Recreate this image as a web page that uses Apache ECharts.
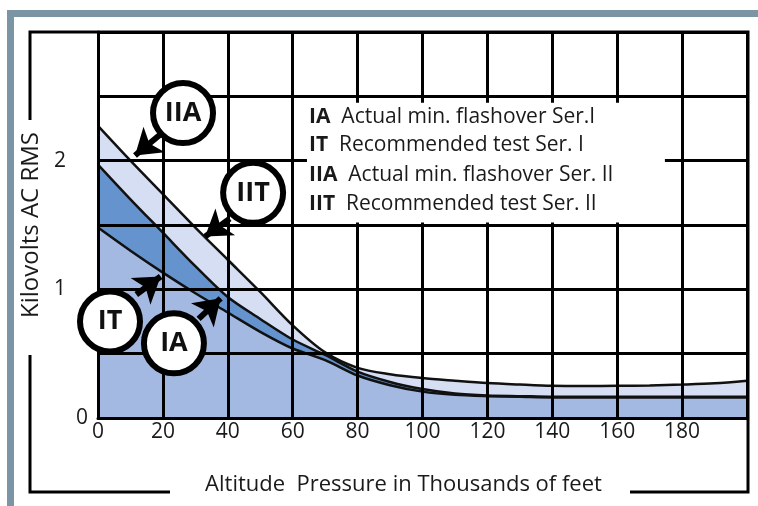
<!DOCTYPE html>
<html>
<head>
<meta charset="utf-8">
<script src="https://cdn.jsdelivr.net/npm/echarts@6/dist/echarts.min.js"></script>
<style>
  html, body { margin: 0; padding: 0; background: #fff; }
  #main { width: 758px; height: 506px; }
</style>
</head>
<body>
<div id="main"></div>
<script>
// altitude in thousands of feet
var altitude = [0, 10, 20, 30, 40, 50, 60, 70, 80, 90, 100, 110, 120, 130, 140, 150, 160, 170, 180, 190, 200];
// kilovolts AC RMS
var iiaCurve = [2.27, 2.00, 1.74, 1.48, 1.23, 0.98, 0.72, 0.51, 0.39, 0.34, 0.31, 0.29, 0.272, 0.26, 0.25, 0.248, 0.25, 0.253, 0.26, 0.27, 0.29];
var iaCurve  = [1.97, 1.70, 1.44, 1.18, 0.94, 0.77, 0.61, 0.49, 0.36, 0.28, 0.225, 0.19, 0.175, 0.17, 0.165, 0.165, 0.165, 0.165, 0.165, 0.165, 0.165];
var itCurve  = [1.48, 1.30, 1.13, 0.97, 0.82, 0.67, 0.54, 0.45, 0.33, 0.255, 0.205, 0.18, 0.17, 0.165, 0.16, 0.16, 0.16, 0.16, 0.16, 0.16, 0.16];
var xTicks = [0, 20, 40, 60, 80, 100, 120, 140, 160, 180];
var yTicks = [0, 1, 2];
var legendRows = [
  ['IA', 'Actual min. flashover Ser.I'],
  ['IT', 'Recommended test Ser. I'],
  ['IIA', 'Actual min. flashover Ser. II'],
  ['IIT', 'Recommended test Ser. II']
];
var calloutNames = ['IIA', 'IIT', 'IT', 'IA'];

var FONT = '"Open Sans", "Noto Sans", sans-serif';
var INK = '#1a1a1a';

var myChart = echarts.init(document.getElementById('main'));

function curve(name, values, fill) {
  return {
    name: name,
    type: 'line',
    data: altitude.map(function (x, i) { return [x, values[i]]; }),
    smooth: 0.3,
    symbol: 'none',
    silent: true,
    z: 2,
    lineStyle: { color: '#111', width: 2.5 },
    areaStyle: { color: fill, opacity: 1 }
  };
}

// where the round labels sit and where their arrows point (data coords)
var calloutPlaces = {
  IIA: { at: [26.2, 2.37], from: [19.0, 2.20], to: [11.4, 2.04] },
  IIT: { at: [47.8, 1.75], from: [40.6, 1.55], to: [33.0, 1.41] },
  IT:  { at: [3.7, 0.75],  from: [11.8, 0.96], to: [19.3, 1.10] },
  IA:  { at: [23.4, 0.58], from: [31.0, 0.77], to: [37.8, 0.93] }
};

var option = {
  animation: false,
  backgroundColor: '#fff',
  grid: { left: 98, top: 32, right: 11, bottom: 88 },
  xAxis: {
    type: 'value',
    min: 0,
    max: 200,
    interval: 20,
    z: 3,
    axisLine: { show: true, onZero: false, lineStyle: { color: '#000', width: 3 } },
    axisTick: { show: false },
    splitLine: { show: true, lineStyle: { color: '#000', width: 3 } },
    axisLabel: {
      margin: 4,
      fontSize: 21,
      color: INK,
      fontFamily: FONT,
      formatter: function (v) { return xTicks.indexOf(v) >= 0 ? String(v) : ''; }
    },
    name: 'Altitude  Pressure in Thousands of feet',
    nameLocation: 'middle',
    nameGap: 56,
    nameTextStyle: { fontSize: 22, color: INK, fontFamily: FONT, padding: [0, 38, 0, 0] }
  },
  yAxis: {
    type: 'value',
    min: 0,
    max: 3,
    interval: 0.5,
    z: 3,
    axisLine: { show: true, lineStyle: { color: '#000', width: 3 } },
    axisTick: { show: false },
    splitLine: { show: true, lineStyle: { color: '#000', width: 3 } },
    axisLabel: {
      margin: 10,
      fontSize: 21,
      color: INK,
      fontFamily: FONT,
      formatter: function (v) {
        if (yTicks.indexOf(v) < 0) return '';
        return v === 0 ? '{z|0}' : '{n|' + v + '}';
      },
      rich: {
        z: { fontSize: 21, fontFamily: FONT, color: INK },
        n: { fontSize: 21, fontFamily: FONT, color: INK, padding: [0, 22, 0, 0] }
      }
    },
    name: 'Kilovolts AC RMS',
    nameLocation: 'middle',
    nameGap: 50,
    nameTextStyle: { fontSize: 24, color: INK, fontFamily: FONT }
  },
  series: [
    curve('IIA', iiaCurve, '#d5def2'),
    curve('IA', iaCurve, '#6593cd'),
    curve('IT', itCurve, '#a3b9e1'),
    {
      name: 'notes',
      type: 'line',
      data: [],
      z: 10,
      silent: true,
      markArea: {
        z: 9,
        silent: true,
        itemStyle: { color: '#fff', opacity: 1, borderWidth: 0 },
        data: [[{ coord: [64.4, 1.52] }, { coord: [174.7, 2.45] }]]
      },
      markLine: {
        z: 10,
        silent: true,
        symbol: ['none', 'arrow'],
        symbolSize: 25,
        label: { show: false },
        lineStyle: { color: '#000', width: 6, type: 'solid' },
        data: calloutNames.map(function (n) {
          var p = calloutPlaces[n];
          return [{ coord: p.from }, { coord: p.to }];
        })
      },
      markPoint: {
        z: 11,
        silent: true,
        symbol: 'circle',
        symbolSize: 60,
        itemStyle: { color: '#fff', borderColor: '#000', borderWidth: 6 },
        label: {
          show: true,
          position: 'inside',
          formatter: '{b}',
          fontSize: 27,
          fontWeight: 'bold',
          color: '#111',
          fontFamily: FONT
        },
        data: calloutNames.map(function (n) {
          return { name: n, coord: calloutPlaces[n].at, value: 0 };
        })
      }
    }
  ],
  graphic: [
    { type: 'rect', z: 50, shape: { x: 7, y: 10, width: 751, height: 7 }, style: { fill: '#7b95a4' } },
    { type: 'rect', z: 50, shape: { x: 7, y: 10, width: 7, height: 496 }, style: { fill: '#7b95a4' } },
    { type: 'polyline', z: 50, shape: { points: [[30, 120], [30, 32], [748, 32], [748, 492], [630, 492]] },
      style: { stroke: '#000', lineWidth: 3, fill: null } },
    { type: 'polyline', z: 50, shape: { points: [[30, 355], [30, 492], [170, 492]] },
      style: { stroke: '#000', lineWidth: 3, fill: null } }
  ].concat(legendRows.map(function (row, i) {
    return {
      type: 'text',
      z: 60,
      x: 309,
      y: [117, 145, 175, 204][i],
      style: {
        text: '{b|' + row[0] + '}  ' + row[1],
        fill: INK,
        fontSize: 21,
        fontFamily: FONT,
        verticalAlign: 'middle',
        rich: { b: { fontWeight: 'bold', fontSize: 21, fontFamily: FONT, fill: INK } }
      }
    };
  }))
};

myChart.setOption(option);
</script>
</body>
</html>
